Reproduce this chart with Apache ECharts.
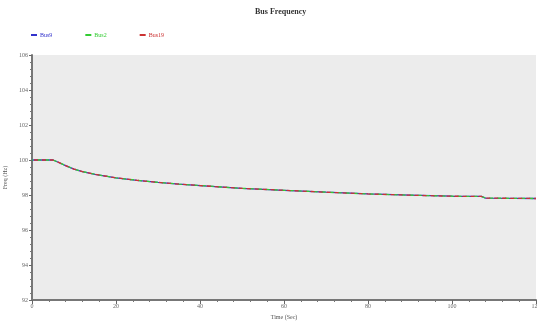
<!DOCTYPE html>
<html>
<head>
<meta charset="utf-8">
<script src="https://cdn.jsdelivr.net/npm/echarts@6/dist/echarts.min.js"></script>
<style>
html,body{margin:0;padding:0;background:#fff;}
#c{width:537px;height:324px;}
</style>
</head>
<body>
<div id="c"></div>
<script>
// Simulation time stamps (s)
const times = [0, 2, 4, 5, 6, 8, 10, 12, 15, 20, 25, 30, 35, 40, 50, 60, 70, 80, 90, 100, 107, 108, 115, 120];
// Bus frequency traces
const bus9  = [100, 100, 100, 100, 99.9, 99.68, 99.48, 99.34, 99.18, 98.98, 98.84, 98.72, 98.62, 98.54, 98.38, 98.27, 98.16, 98.06, 97.99, 97.93, 97.92, 97.82, 97.81, 97.80];
const bus2  = [100, 100, 100, 100, 99.9, 99.68, 99.48, 99.34, 99.18, 98.98, 98.84, 98.72, 98.62, 98.54, 98.38, 98.27, 98.16, 98.06, 97.99, 97.93, 97.92, 97.82, 97.81, 97.80];
const bus19 = [100, 100, 100, 100, 99.9, 99.68, 99.48, 99.34, 99.18, 98.98, 98.84, 98.72, 98.62, 98.54, 98.38, 98.27, 98.16, 98.06, 97.99, 97.93, 97.92, 97.82, 97.81, 97.80];
const seriesNames = ['Bus9', 'Bus2', 'Bus19'];
const seriesColors = ['#3333cc', '#33cc33', '#cc3333'];

const pair = arr => times.map((t, i) => [t, arr[i]]);
const font = 'Liberation Serif';

const chart = echarts.init(document.getElementById('c'), null, {renderer: 'canvas'});
chart.setOption({
  animation: false,
  backgroundColor: '#ffffff',
  title: {
    text: 'Bus Frequency',
    left: 250, top: 3,
    textStyle: {fontFamily: font, fontSize: 8, fontWeight: 'bold', color: '#333'}
  },
  legend: {
    left: 26, top: 27,
    itemWidth: 6, itemHeight: 2, itemGap: 33,
    icon: 'rect',
    textStyle: {fontFamily: font, fontSize: 6, padding: [0,0,0,-2]},
    data: seriesNames.map((n, i) => ({name: n, textStyle: {color: seriesColors[i]}}))
  },
  grid: {
    left: 32, top: 55, right: 1, bottom: 24,
    containLabel: false, outerBoundsMode: 'none',
    backgroundColor: '#ececec', show: true, borderWidth: 0
  },
  xAxis: {
    type: 'value', min: 0, max: 120, interval: 20,
    name: 'Time (Sec)', nameLocation: 'middle', nameGap: 14,
    nameTextStyle: {fontFamily: font, fontSize: 6, color: '#555'},
    axisLine: {lineStyle: {color: '#777', width: 2}},
    axisTick: {show: true, length: 4, lineStyle: {color: '#666'}},
    minorTick: {show: true, splitNumber: 5, length: 2, lineStyle: {color: '#777'}},
    axisLabel: {fontFamily: font, fontSize: 6, color: '#666', margin: 3},
    splitLine: {show: false}
  },
  yAxis: {
    type: 'value', min: 92, max: 106, interval: 2,
    name: 'Freq (Hz)', nameLocation: 'middle', nameGap: 20, nameRotate: 90,
    nameTextStyle: {fontFamily: font, fontSize: 6, color: '#555'},
    axisLine: {show: true, lineStyle: {color: '#777', width: 2}},
    axisTick: {show: true, length: 3, lineStyle: {color: '#666'}},
    minorTick: {show: true, splitNumber: 5, length: 2, lineStyle: {color: '#777'}},
    axisLabel: {fontFamily: font, fontSize: 6, color: '#666', margin: 4},
    splitLine: {show: false}
  },
  series: [bus9, bus2, bus19].map((d, i) => ({
    name: seriesNames[i],
    type: 'line',
    data: pair(d),
    showSymbol: false,
    color: seriesColors[i],
    lineStyle: {width: 1.3, color: seriesColors[i], type: i === 0 ? 'solid' : [4, 4], dashOffset: i * 3},
    z: 2 + i
  }))
});
</script>
</body>
</html>
